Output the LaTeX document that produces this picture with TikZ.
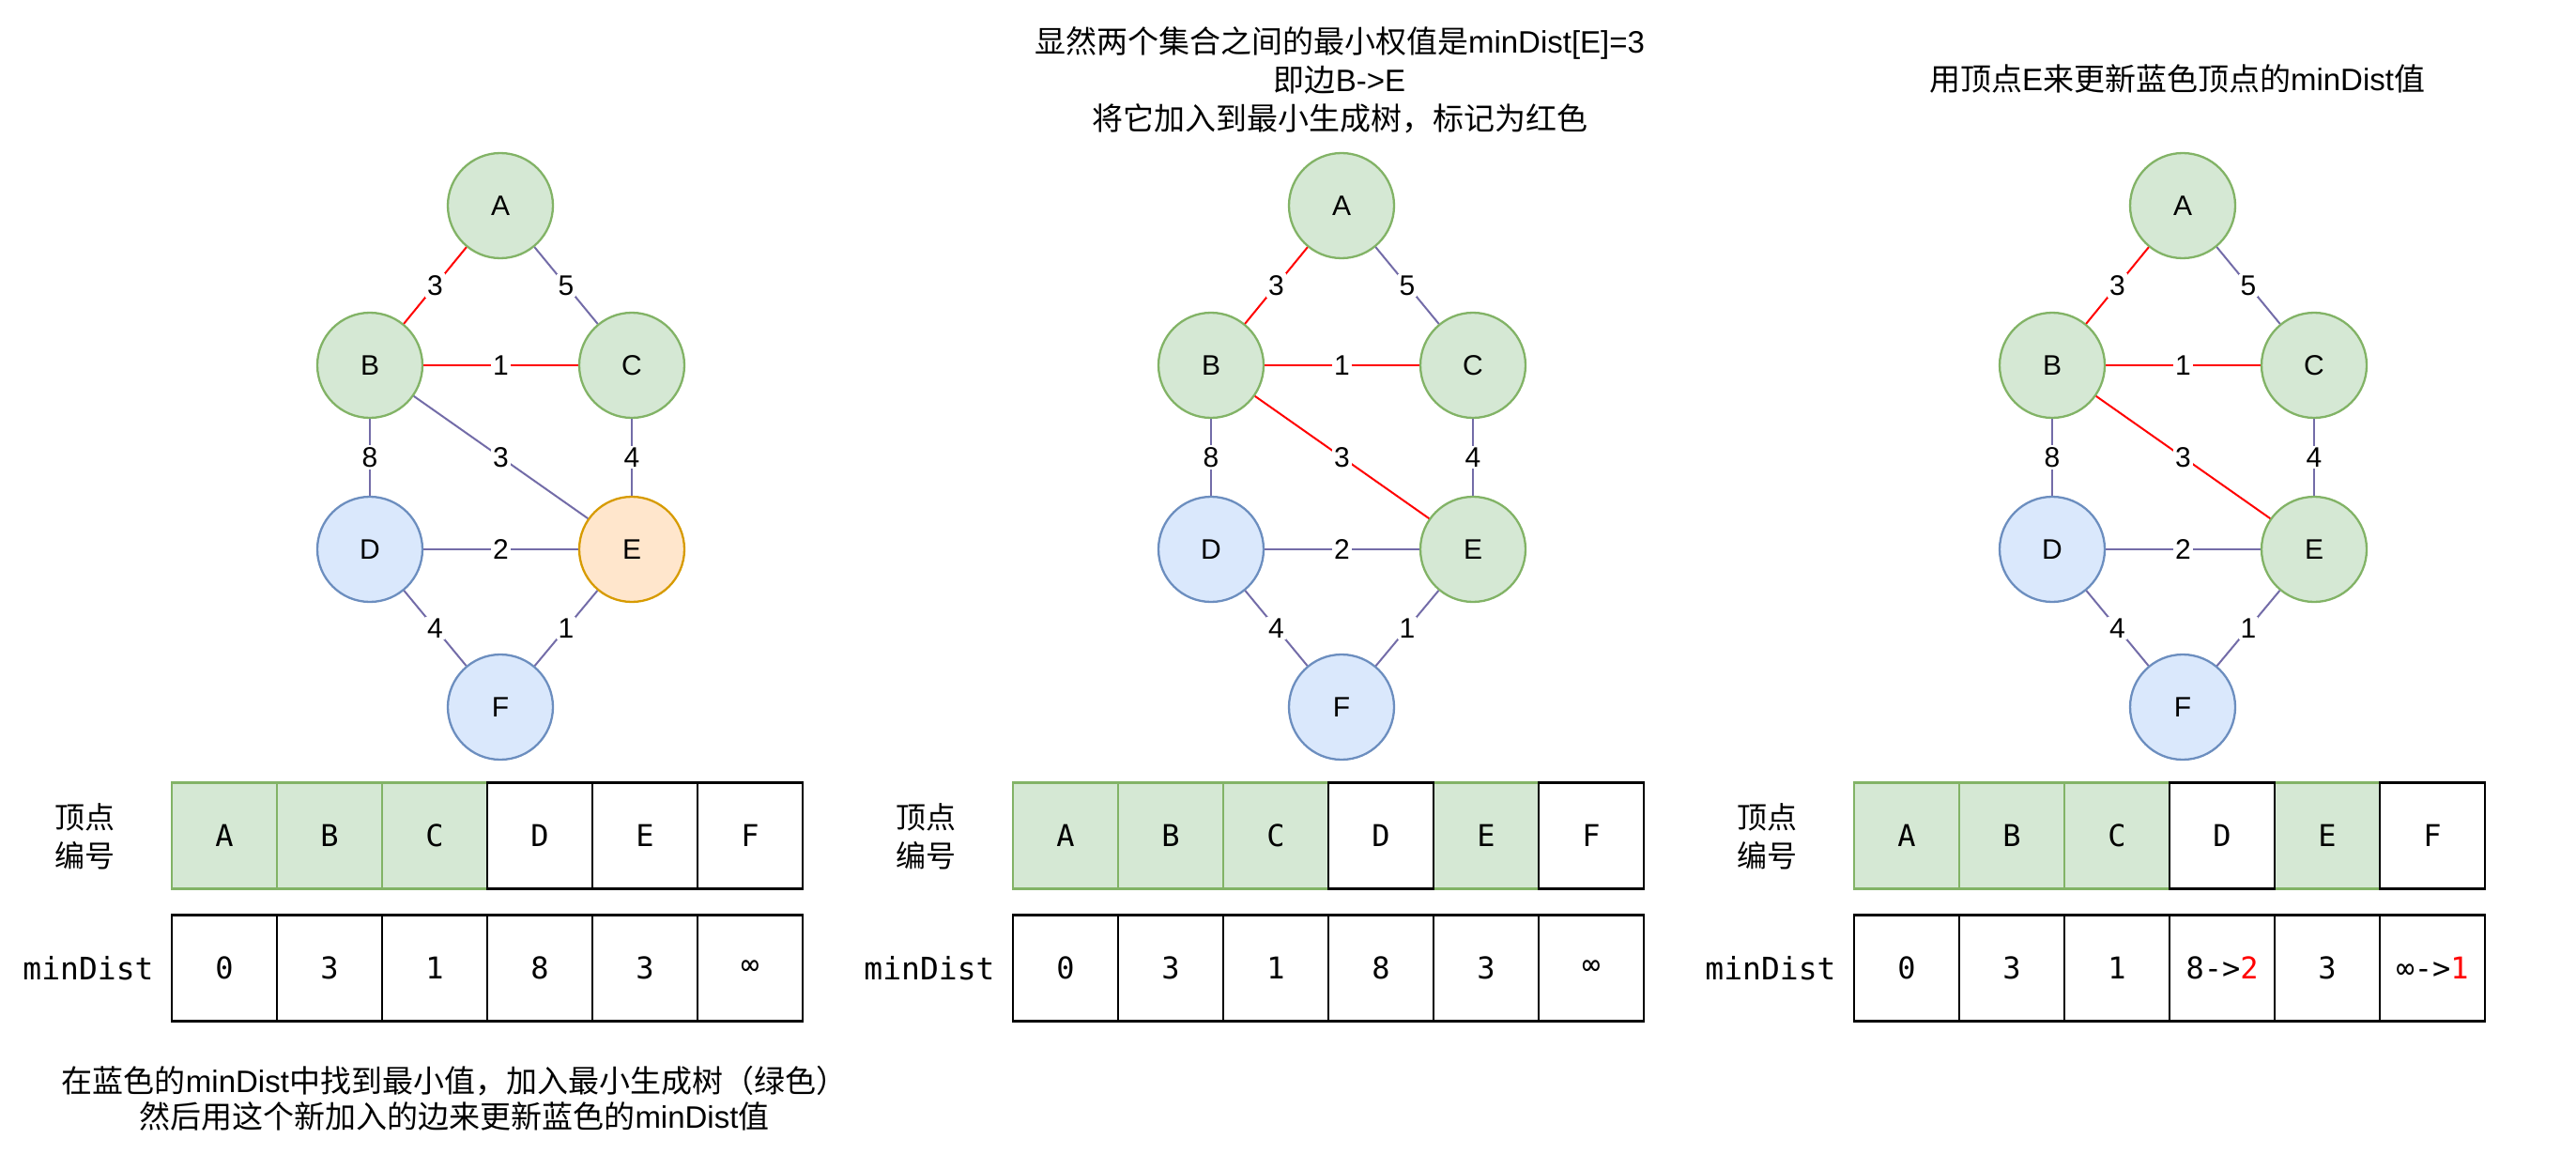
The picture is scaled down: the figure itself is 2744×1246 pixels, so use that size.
\documentclass[tikz,border=0pt]{standalone}
\usepackage{fontspec}
\setmainfont{Liberation Sans}
\newfontfamily\cjk{Noto Sans CJK SC}
\newfontfamily\monof{DejaVu Sans Mono}
\definecolor{gfill}{HTML}{D5E8D4}
\definecolor{gstroke}{HTML}{82B366}
\definecolor{bfill}{HTML}{DAE8FC}
\definecolor{bstroke}{HTML}{6C8EBF}
\definecolor{ofill}{HTML}{FFE6CC}
\definecolor{ostroke}{HTML}{D79B00}
\definecolor{pcol}{HTML}{736CA8}
\definecolor{redc}{HTML}{FF0000}
\newcommand\panelgraph[4]{%
 \begin{scope}[shift={(#2,0)}]
  \node[gG] (#1A) at (533,219) {A};
  \node[gG] (#1B) at (394,389) {B};
  \node[gG] (#1C) at (673,389) {C};
  \node[gB] (#1D) at (394,585) {D};
  \node[#3] (#1E) at (673,585) {E};
  \node[gB] (#1F) at (533,753) {F};
  \draw[re] (#1A) -- node[elab]{3} (#1B);
  \draw[pe] (#1A) -- node[elab]{5} (#1C);
  \draw[re] (#1B) -- node[elab]{1} (#1C);
  \draw[pe] (#1B) -- node[elab]{8} (#1D);
  \draw[#4] (#1B) -- node[elab]{3} (#1E);
  \draw[pe] (#1C) -- node[elab]{4} (#1E);
  \draw[pe] (#1D) -- node[elab]{2} (#1E);
  \draw[pe] (#1D) -- node[elab]{4} (#1F);
  \draw[pe] (#1E) -- node[elab]{1} (#1F);
 \end{scope}}
\newcommand\tablelabels[2]{%
 \begin{scope}[shift={(#2,0)}]
  \node[cjklab] (#1lab) at (90,891) {顶点\\编号};
  \node[monolab] (#1ml) at (94,1031) {minDist};
 \end{scope}}
\begin{document}
\begin{tikzpicture}[x=0.5pt,y=-0.5pt,
 gnode/.style={circle,minimum size=56pt,inner sep=0pt,line width=1.15pt,font=\fontsize{15pt}{18pt}\selectfont},
 gG/.style={gnode,draw=gstroke,fill=gfill},
 gB/.style={gnode,draw=bstroke,fill=bfill},
 gO/.style={gnode,draw=ostroke,fill=ofill},
 pe/.style={draw=pcol,line width=1pt},
 re/.style={draw=redc,line width=1pt},
 elab/.style={fill=white,inner sep=1pt,font=\fontsize{15pt}{17pt}\selectfont,text=black},
 cellbase/.style={rectangle,line width=1.3pt,minimum width=56pt,minimum height=56.5pt,inner sep=0pt,font=\monof\fontsize{16pt}{20pt}\selectfont},
 cellG/.style={cellbase,draw=gstroke,fill=gfill},
 cellW/.style={cellbase,draw=black,fill=white},
 cjklab/.style={align=center,inner sep=0pt,font=\cjk\fontsize{16pt}{20.5pt}\selectfont},
 monolab/.style={inner sep=0pt,font=\monof\fontsize{16.5pt}{20pt}\selectfont},
 head/.style={align=center,inner sep=0pt,font=\fontsize{16.5pt}{20.5pt}\selectfont}
]
\path[use as bounding box] (0,0) rectangle (2744,1246);

% graphs
\panelgraph{p}{0}{gO}{pe}
\panelgraph{q}{896}{gG}{re}
\panelgraph{r}{1792}{gG}{re}

% tables
\tablelabels{p}{0}
\tablelabels{q}{896}
\tablelabels{r}{1792}

\foreach \i/\s/\t in {1/cellG/A,2/cellG/B,3/cellG/C,4/cellW/D,5/cellW/E,6/cellW/F}
  \node[\s] (pa\i) at (127+112*\i,890) {\t};
\foreach \i/\s/\t in {1/cellW/0,2/cellW/3,3/cellW/1,4/cellW/8,5/cellW/3,6/cellW/∞}
  \node[\s] (pb\i) at (127+112*\i,1031) {\t};

\foreach \i/\s/\t in {1/cellG/A,2/cellG/B,3/cellG/C,5/cellG/E,4/cellW/D,6/cellW/F}
  \node[\s] (qa\i) at (1023+112*\i,890) {\t};
\foreach \i/\s/\t in {1/cellW/0,2/cellW/3,3/cellW/1,4/cellW/8,5/cellW/3,6/cellW/∞}
  \node[\s] (qb\i) at (1023+112*\i,1031) {\t};

\foreach \i/\s/\t in {1/cellG/A,2/cellG/B,3/cellG/C,5/cellG/E,4/cellW/D,6/cellW/F}
  \node[\s] (ra\i) at (1919+112*\i,890) {\t};
\foreach \i/\s/\t in {1/cellW/0,2/cellW/3,3/cellW/1,4/cellW/{8->\textcolor{redc}{2}},5/cellW/3,6/cellW/{∞->\textcolor{redc}{1}}}
  \node[\s] (rb\i) at (1919+112*\i,1031) {\t};

% texts
\node[head] (h2) at (1427,85) {{\cjk 显然两个集合之间的最小权值是}minDist[E]=3\\{\cjk 即边}B->E\\{\cjk 将它加入到最小生成树，标记为红色}};
\node[head] (h3) at (2319,84) {{\cjk 用顶点}E{\cjk 来更新蓝色顶点的}minDist{\cjk 值}};
\node[head,font=\fontsize{16.5pt}{19pt}\selectfont] (h1) at (484,1170) {{\cjk 在蓝色的}minDist{\cjk 中找到最小值，加入最小生成树（绿色）}\\{\cjk 然后用这个新加入的边来更新蓝色的}minDist{\cjk 值}};
\end{tikzpicture}
\end{document}
